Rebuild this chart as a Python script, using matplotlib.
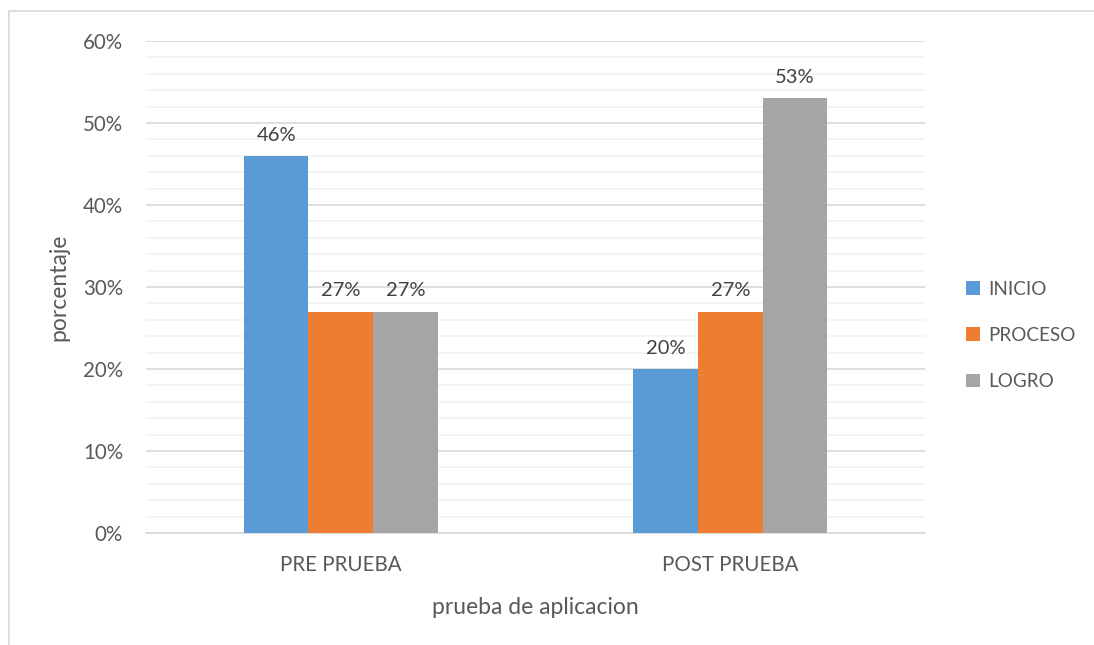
import matplotlib
matplotlib.use("Agg")
import matplotlib.pyplot as plt
import numpy as np
from matplotlib.ticker import MultipleLocator, FuncFormatter
from matplotlib.lines import Line2D

categories = ["PRE PRUEBA", "POST PRUEBA"]
series_names = ["INICIO", "PROCESO", "LOGRO"]
inicio = [46, 20]
proceso = [27, 27]
logro = [27, 53]
colors = ["#5B9BD5", "#ED7D31", "#A5A5A5"]

plt.rcParams['font.family'] = ['Lato', 'DejaVu Sans']
txt = "#595959"

fig = plt.figure(figsize=(10.94, 6.45), dpi=100)
ax = fig.add_axes([146/1094, 1-533/645, (925-146)/1094, (533-41)/645])

x = np.arange(len(categories))
w = 0.166
for i, (vals, c) in enumerate(zip([inicio, proceso, logro], colors)):
    pos = x + (i - 1) * w
    ax.bar(pos, vals, width=w, color=c, zorder=3, label=series_names[i])
    for p, v in zip(pos, vals):
        ax.text(p, v + 1.5, f"{v}%", ha="center", va="bottom", fontsize=14.5, color="#404040")

ax.set_xlim(-0.5, 1.5)
ax.set_ylim(0, 60)
ax.yaxis.set_major_locator(MultipleLocator(10))
ax.yaxis.set_minor_locator(MultipleLocator(2))
ax.yaxis.set_major_formatter(FuncFormatter(lambda v, p: f"{int(v)}%"))
ax.grid(axis="y", which="major", color="#D9D9D9", lw=1.2, zorder=0)
ax.grid(axis="y", which="minor", color="#F2F2F2", lw=1.2, zorder=0)
for s in ["top", "right", "left"]:
    ax.spines[s].set_visible(False)
ax.spines["bottom"].set_color("#D9D9D9")
ax.spines["bottom"].set_linewidth(1.2)
ax.tick_params(axis="both", which="both", length=0, labelsize=14.8, colors=txt)
ax.tick_params(axis="x", pad=16)
ax.tick_params(axis="y", pad=16.5)
ax.set_xticks(x)
ax.set_xticklabels(categories)
ax.set_xlabel("prueba de aplicacion", fontsize=16.5, color=txt, labelpad=16)
ax.set_ylabel("porcentaje", fontsize=16.5, color=txt, labelpad=10)

leg = fig.legend(loc="center left", bbox_to_anchor=(966/1094, 1-335.5/645), frameon=False,
                 borderaxespad=0, borderpad=0,
                 fontsize=13.6, labelcolor=txt, handlelength=0.75, handleheight=0.75,
                 handletextpad=0.45, labelspacing=1.54)

# outer chart border
fig.add_artist(Line2D([9/1094, 1.0], [1-11/645, 1-11/645], color="#D9D9D9", lw=1.2))
fig.add_artist(Line2D([9/1094, 9/1094], [0, 1-11/645], color="#D9D9D9", lw=1.2))

fig.savefig("out.png", dpi=100)
